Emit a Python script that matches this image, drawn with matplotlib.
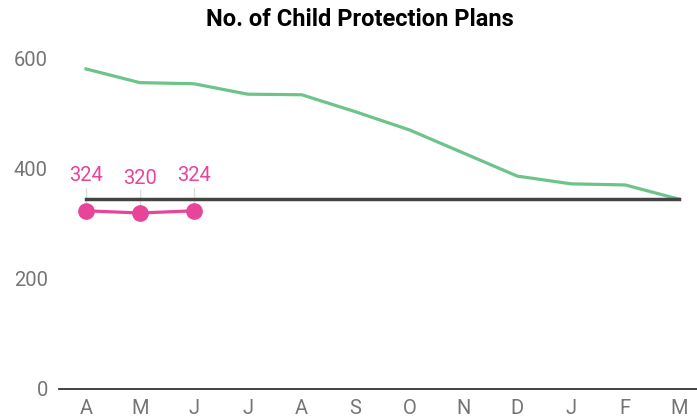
import matplotlib.pyplot as plt

plt.rcParams['font.family'] = ['Roboto', 'DejaVu Sans']

months = ['A', 'M', 'J', 'J', 'A', 'S', 'O', 'N', 'D', 'J', 'F', 'M']
last_year = [582, 557, 555, 536, 535, 504, 471, 429, 387, 373, 371, 345]
target = [345] * 12
this_year = [324, 320, 324]

x = list(range(len(months)))

fig = plt.figure(figsize=(6.97, 4.18), dpi=100)
# plot area in pixels: left 59, right 697, bottom 389, y 0..650
ymax = 650
px_per_unit = 0.55
bottom = 1 - 389 / 418
height = ymax * px_per_unit / 418
ax = fig.add_axes([59 / 697, bottom, 638 / 697, height])

ax.plot(x, last_year, color='#6cc48a', linewidth=2.3, zorder=2)
ax.plot(x, target, color='#444444', linewidth=2.5, zorder=3)

tx = x[:len(this_year)]
for xi, v in zip(tx, this_year):
    # thin stem from value label down to the point
    ax.plot([xi, xi], [v, v + 42], color='#dddddd', linewidth=1, zorder=1)
    ax.text(xi, v + 46, str(v), color='#e8449a', fontsize=14.5,
            ha='center', va='bottom')
ax.plot(tx, this_year, color='#e8449a', linewidth=2.3, marker='o',
        markersize=11, zorder=4)

ax.set_xlim(-0.5, 11.33)
ax.set_ylim(0, ymax)
ax.set_xticks(x)
ax.set_xticklabels(months)
ax.set_yticks([0, 200, 400, 600])
ax.tick_params(axis='both', length=0, colors='#757575', labelsize=14.5)
ax.tick_params(axis='y', pad=8)
ax.tick_params(axis='x', pad=7)

for side in ['top', 'right', 'left']:
    ax.spines[side].set_visible(False)
ax.spines['bottom'].set_color('#333333')
ax.spines['bottom'].set_linewidth(1.3)

fig.text(360 / 697, 1 - 19 / 418, 'No. of Child Protection Plans',
         ha='center', va='center', fontsize=17, fontweight='bold')

fig.savefig('out.png', dpi=100)
